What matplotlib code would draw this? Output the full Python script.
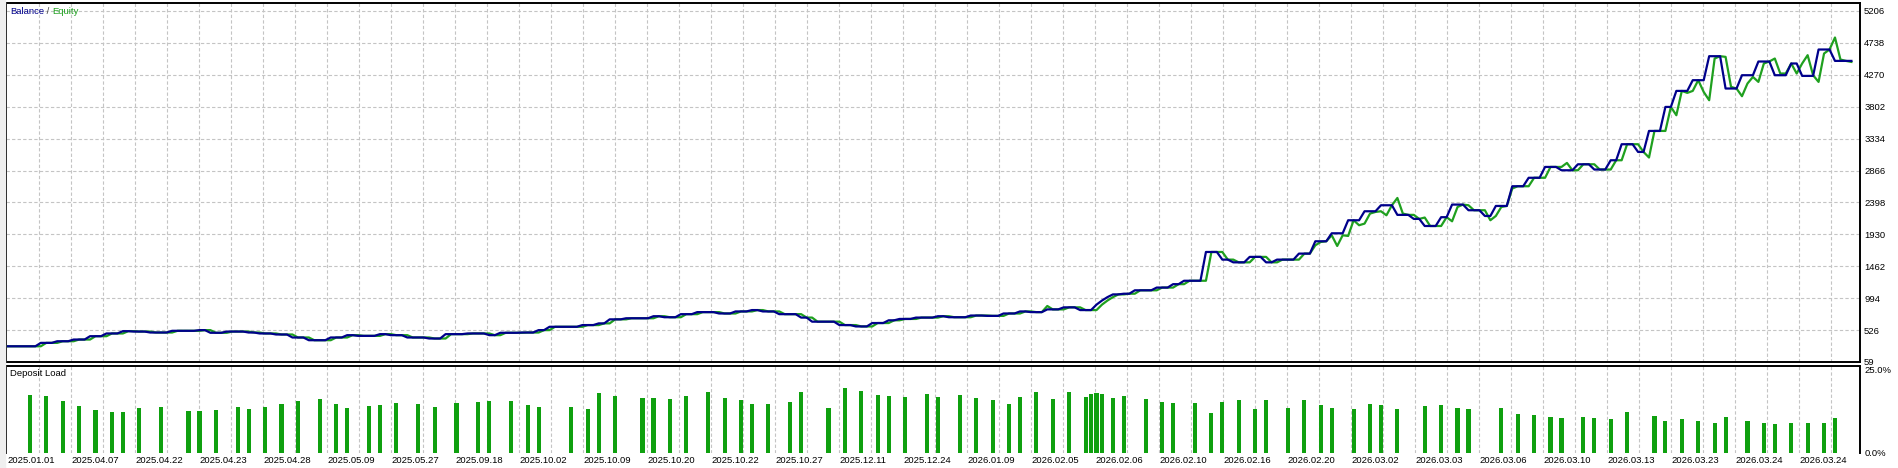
import numpy as np
import matplotlib
matplotlib.use("Agg")
from matplotlib import pyplot as plt

# deposit load: deal number of each entry and the load in percent
entry_deal = [4, 7, 10, 13, 16, 19, 21, 24, 28, 33, 35, 38, 42, 44, 47, 50, 53, 57, 60, 62,
              66, 68, 71, 75, 78, 82, 86, 88, 92, 95, 97, 103, 106, 108, 111, 116, 118, 121, 124,
              128, 131, 134, 136, 139, 143, 145, 150, 153, 156, 159, 161, 164, 168, 170, 174, 177,
              180, 183, 185, 188, 191, 194, 197, 198, 199, 200, 202, 204, 208, 211, 213, 217, 220,
              222, 225, 228, 230, 234, 237, 240, 242, 246, 249, 251, 254,
              259, 262, 265, 267, 273, 276, 279, 282, 284, 288, 290, 293, 296, 301, 303, 306, 309,
              312, 314, 318, 321, 323, 326, 329, 332, 334]
deposit_load = [16.6, 16.3, 14.9, 13.5, 12.3, 11.7, 11.7, 12.9, 13.2, 12.0, 12.0, 12.3, 13.2, 12.6,
                13.2, 14.0, 14.9, 15.5, 14.0, 12.9, 13.5, 13.8, 14.3, 14.0, 13.2, 14.3, 14.6, 14.9,
                14.9, 13.8, 13.2, 13.2, 12.6, 17.2, 16.3, 15.8, 15.8, 15.5, 16.3,
                17.5, 15.8, 15.2, 14.0, 14.0, 14.6, 17.5, 12.9, 18.7, 17.8, 16.6, 16.3, 16.1, 16.9,
                16.1, 16.6, 15.8, 15.2, 14.0, 16.1, 17.5, 15.5, 17.5, 16.1, 16.9, 17.2, 16.9, 15.8,
                16.3, 15.5, 14.6, 14.3, 14.3, 11.4, 14.6, 15.2, 12.6, 15.2, 12.9, 15.2, 13.8, 12.9,
                12.6, 14.0, 13.8, 12.6,
                13.5, 13.8, 12.9, 12.6, 12.9, 11.2, 10.9, 10.3, 10.0, 10.3, 10.0, 9.7, 11.7, 10.6,
                9.1, 9.7, 9.1, 8.6, 10.3, 9.1, 8.6, 8.3, 8.6, 8.6, 8.6, 10.0]

# balance after each closing deal
start_balance = 289
close_deal = [6, 9, 12, 15, 18, 21, 23, 26, 30, 35, 37, 40, 44, 46, 49, 52, 55, 59, 62, 64, 68,
              70, 73, 77, 80, 84, 88, 90, 94, 97, 99, 105, 108, 110,
              113, 118, 120, 123, 126, 130, 133, 136, 138, 141, 145, 147, 152, 155, 158, 161, 163,
              166, 170, 172, 176, 179, 182, 185, 187, 190, 193, 196, 199, 200, 201, 202, 204, 206,
              210, 213, 215, 219,
              222, 224, 227, 230, 232, 236, 239, 242, 245, 248, 251, 254, 257, 259, 262, 264, 267,
              270, 272, 275, 278, 281, 284, 287, 290, 293, 295, 298, 300, 303, 305, 308, 311, 314,
              317, 320, 323, 326, 328, 331, 334]
close_balance = [339, 363, 388, 437, 477, 511, 505, 491, 516, 526, 487, 505, 491, 477, 462, 418,
                 378, 418, 452, 442, 467, 452, 418, 403, 467, 477, 452, 487, 491, 526, 575, 600,
                 625, 684,
                 700, 730, 715, 760, 790, 770, 800, 820, 800, 760, 710, 650, 600, 580, 630, 670,
                 690, 710, 730, 715, 740, 735, 770, 800, 790, 830, 860, 820, 900, 960, 1010, 1050,
                 1060, 1110, 1150, 1200, 1250, 1672,
                 1560, 1520, 1600, 1520, 1560, 1648, 1829, 1946, 2137, 2269, 2357, 2216, 2157,
                 2053, 2182, 2367, 2284, 2200, 2347, 2636, 2760, 2919, 2870, 2958, 2881, 3017,
                 3252, 3139, 3447, 3799, 4034, 4191, 4543, 4069, 4264, 4465, 4264, 4436, 4254,
                 4641, 4474]
last_deal = 337

# equity where it moves away from the (lagged) balance
eq_deal = [190, 239, 240, 242, 243, 244, 245, 247, 248, 249, 250, 252, 254, 255, 259, 260, 264,
           265, 267, 268, 271, 273, 275, 285, 300, 305, 307, 310, 311, 312, 314, 315, 317, 318,
           319, 320, 321, 323, 324, 325, 326, 327, 329, 330, 331, 332, 333, 334, 335, 337]
eq_value = [880, 1770, 1819, 1917, 1760, 1917, 1907, 2064, 2088, 2235, 2259, 2210, 2464, 2235,
            2177, 2053, 2122, 2332, 2357, 2284, 2137, 2332, 2602, 2978, 3057, 3677, 4005, 4019,
            3897, 4509, 4533, 4093, 3956, 4142, 4239, 4166, 4436, 4509, 4289, 4289, 4436, 4289,
            4558, 4264, 4166, 4582, 4641, 4817, 4494, 4459]

y_ticks = [59, 526, 994, 1462, 1930, 2398, 2866, 3334, 3802, 4270, 4738, 5206]
date_labels = ["2025.01.01", "2025.04.07", "2025.04.22", "2025.04.23", "2025.04.28",
               "2025.05.09", "2025.05.27", "2025.09.18", "2025.10.02", "2025.10.09",
               "2025.10.20", "2025.10.22", "2025.10.27", "2025.12.11", "2025.12.24",
               "2026.01.09", "2026.02.05", "2026.02.06", "2026.02.10", "2026.02.16",
               "2026.02.20", "2026.03.02", "2026.03.03", "2026.03.06", "2026.03.10",
               "2026.03.13", "2026.03.23", "2026.03.24", "2026.03.24"]

BLUE = "#00008b"
GREEN = "#1fa01f"
BAR_GREEN = "#0fa00f"
GRID = "#c4c4c4"

deals = np.arange(last_deal + 1)
balance = np.full(len(deals), float(start_balance))
for d, b in zip(close_deal, close_balance):
    balance[d:] = b
equity = np.r_[balance[0], balance[:-1]]
equity[eq_deal] = eq_value

W, H = 1898, 468
px_deal = 5.47      # pixels per deal
x_org = 8.0         # pixel of deal 0
fig = plt.figure(figsize=(W / 100, H / 100), dpi=100)
fig.patch.set_facecolor("white")
fig.patches.append(plt.Rectangle((0, 0), 5 / W, 1, transform=fig.transFigure,
                                 color="#efefef", zorder=0))

left, right = 6, 1860
ax = fig.add_axes([left / W, (H - 362) / H, (right - left) / W, (362 - 3) / H])
axl = fig.add_axes([left / W, (H - 453) / H, (right - left) / W, (453 - 366) / H])

xlim = ((left - x_org) / px_deal, (right - x_org) / px_deal)
for a in (ax, axl):
    a.set_xlim(*xlim)
    a.set_facecolor("white")
    for k in range(1, 58):
        a.axvline((7.3 - x_org + 32 * k) / px_deal, color=GRID, lw=0.8,
                  dashes=(3, 2), zorder=0)
    for s in a.spines.values():
        s.set_linewidth(1.4)
    a.tick_params(axis="y", right=True, left=False, labelright=True, labelleft=False,
                  length=0, pad=3, labelsize=6.8)

# balance / equity
ax.set_ylim(58.6, 5323)
for v in y_ticks[1:]:
    ax.axhline(v, color=GRID, lw=0.8, dashes=(3, 2), zorder=0)
ax.plot(deals, equity, color=GREEN, lw=1.6, zorder=3)
ax.plot(deals, balance, color=BLUE, lw=1.6, zorder=4)
ax.set_yticks(y_ticks, [str(v) for v in y_ticks])
ax.set_xticks([])

# deposit load
axl.bar(entry_deal, deposit_load, width=0.75, color=BAR_GREEN, zorder=3)
axl.set_ylim(0, 25)
axl.set_yticks([0, 25], ["0.0%", "25.0%"])
axl.get_yticklabels()[1].set_verticalalignment("top")
axl.spines["bottom"].set_visible(False)
lab_pos = [(7.3 - x_org + 64 * k) / px_deal for k in range(len(date_labels))]
axl.set_xticks(lab_pos, date_labels, ha="left")
axl.tick_params(axis="x", length=0, pad=2.5, labelsize=6.8)

for t in ax.get_yticklabels() + axl.get_yticklabels() + axl.get_xticklabels():
    t.set_family("Liberation Sans")

# legend texts
fig.canvas.draw()
r = fig.canvas.get_renderer()
x = 10
for txt, c in [("Balance", BLUE), (" / ", "#404040"), ("Equity", GREEN)]:
    t = fig.text(x / W, 1 - 12 / H, txt, color=c, fontsize=6.8, family="Liberation Sans",
                 va="center", ha="left")
    x += t.get_window_extent(r).width
fig.text(10 / W, 1 - 373 / H, "Deposit Load", color="black", fontsize=6.8,
         family="Liberation Sans", va="center", ha="left")

fig.savefig("out.png", dpi=100, facecolor="white")
